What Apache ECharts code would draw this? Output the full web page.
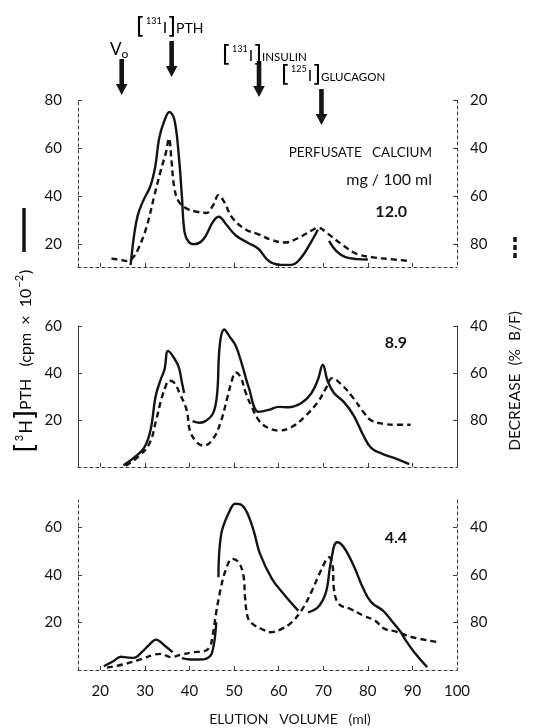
<!DOCTYPE html>
<html>
<head>
<meta charset="utf-8">
<script src="https://cdn.jsdelivr.net/npm/echarts@6/dist/echarts.min.js"></script>
<style>
  html, body { margin: 0; padding: 0; background: #fff; }
  #chart { width: 535px; height: 728px; }
</style>
</head>
<body>
<div id="chart"></div>
<script>
// elution profiles: [3H]PTH (solid, left axis) and % decrease B/F (dashed, right axis, inverted)
const calciumLevels = ['12.0', '8.9', '4.4']

// perfusate calcium 12.0 mg/100 ml
const pth12 = [[26.8, 11.3], [27.6, 24], [28.4, 32], [29.6, 38], [31.2, 44], [32.3, 52], [33.2, 64], [34.3, 71],
  [35.5, 75], [36.6, 72], [37.6, 57], [38.3, 40], [38.9, 25], [39.8, 21], [41, 20], [43.1, 22], [45.3, 29.4],
  [46.6, 31.4], [48.2, 28.3], [50.4, 23.6], [53.3, 20.4], [55.5, 18], [57.3, 13.8], [58.8, 12], [60.5, 11.4],
  [62.9, 11.4], [65.1, 14.5], [67.3, 21], [68.8, 26], [70.2, null], [71.3, 21.4], [73, 17], [75, 14.6],
  [77.5, 13.8], [80, 13.6]]
const bf12 = [[22.5, 86], [24.5, 86.5], [26, 87], [27.3, 85.6], [28.4, 82.4], [30.3, 73.3], [32.1, 60],
  [33.6, 49.1], [34.7, 42], [35.4, 36], [36, 46], [36.6, 56.5], [37.6, 62.3], [39.4, 65.2], [41.6, 66.5],
  [43.8, 67], [45.3, 63.8], [46.5, 59.6], [47.8, 62.5], [49.6, 69], [52.6, 73.9], [55.5, 75.9], [58.5, 78.3],
  [61.4, 79.3], [64.4, 77.4], [67.7, 74], [68.9, 73.2], [71, 75.6], [74.6, 80.7], [77.5, 84], [81.2, 85.5],
  [84.9, 86.2], [89.3, 87]]

// 8.9 mg/100 ml
const pth89 = [[25.2, 0.7], [27.7, 4.2], [29.9, 8.4], [31.3, 16], [32.4, 30], [33.5, 37], [34.4, 41.5],
  [35.2, 49.4], [36.5, 46.5], [37.6, 42.5], [38.3, 36], [38.8, 31.5], [39.8, null], [40.7, 19.5], [42.3, 18.8],
  [43.8, 19.8], [45.3, 22.8], [46.2, 31], [46.8, 52], [47.8, 58.5], [49, 55.5], [50.4, 51.5], [51.8, 43.5],
  [53.3, 33.8], [55.5, 23.5], [57.8, 24.3], [60, 25.6], [62.2, 25.4], [65.1, 27.2], [67.3, 31.3], [68.8, 37.1],
  [69.9, 43.5], [71, 36.5], [72.4, 31.5], [74.6, 27.7], [76.8, 22], [79, 13.4], [80.8, 8], [83.4, 5.5],
  [86.3, 3.6], [89.3, 1.2]]
const bf89 = [[25.7, 99.5], [28.4, 95.8], [31, 90.1], [32.5, 80.3], [33.6, 71.8], [34.7, 65.4], [35.4, 63.3],
  [36.5, 64], [37.9, 69], [39.4, 76], [40.1, 84.5], [41.6, 89.4], [43.2, 90.9], [45.3, 88], [47.1, 80.3],
  [48.5, 70.4], [49.6, 62.6], [50.4, 59.8], [51.5, 61.9], [52.6, 68.3], [54, 74.6], [55.7, 80.5], [57.8, 83.5],
  [60, 84.5], [62.9, 83], [65.8, 78.7], [68.8, 72.3], [70.6, 66.5], [72, 62.2], [74.2, 65.1], [76.8, 70.8],
  [79, 76.6], [80.8, 80.2], [83.4, 81.6], [86.3, 82], [89.6, 82]]

// 4.4 mg/100 ml
const pth44 = [[20.8, 1.6], [23, 3.8], [24.6, 5.6], [26, 5.3], [27.5, 5.1], [29.3, 7.5], [30.9, 10.5],
  [32.5, 12.8], [34.4, 10.3], [36.2, 7.5], [37.2, null], [38.3, 5], [40.2, 4.4], [42.3, 4.4], [43.8, 4.8],
  [45.1, 7.5], [46, 20.1], [46.2, null], [46.5, 39.1], [47.1, 57], [48.9, 66.5], [50.3, 70], [51.8, 69.3],
  [53.2, 65.1], [54.5, 58], [55.8, 49], [58.5, 38.4], [61.4, 31.4], [64.4, 25], [65.5, null], [66.6, 24.3],
  [68.8, 26.4], [70.6, 32.7], [71.7, 45.4], [73.1, 53.8], [74.6, 51.7], [76.8, 44], [79, 34.2], [80.8, 28.5],
  [83.4, 25], [85.6, 20.1], [87.3, 16.2], [88.5, 12.5], [90.7, 6.8], [93.3, 1.2]]
const bf44 = [[21.5, 99], [25.7, 97.4], [29.3, 95.3], [32.2, 93.5], [33.6, 93.2], [35.8, 94.6], [38, 93.6],
  [40.9, 92.5], [43.1, 92.2], [44.5, 90.4], [45.2, 85.5], [46, 75.7], [47, 65.8], [48.1, 58.1], [49.6, 53.2],
  [51, 54.6], [52.1, 60.2], [52.5, 70], [53.2, 78.5], [54.7, 81.3], [56.5, 83], [58.1, 84.1], [60.7, 82.7],
  [62.9, 79.9], [65.1, 75], [67.3, 67.3], [69.5, 58.1], [71.3, 52.5], [72.1, 56], [72.4, 65.8], [73.5, 72.2],
  [76.1, 74.3], [79, 77.1], [81.6, 79.2], [83.8, 82.7], [86.3, 83.8], [90, 86.2], [95.8, 88.3]]

const pthSeries = [pth12, pth89, pth44]
const bfSeries = [bf12, bf89, bf44]

// axes
const volumeTicks = [20, 30, 40, 50, 60, 70, 80, 90]
const volumeLabels = [20, 30, 40, 50, 60, 70, 80, 90, 100]
const pthRanges = [[10.5, 80], [0, 60], [0, 71.6]]
const pthTicks = [[20, 40, 60, 80], [20, 40, 60], [20, 40, 60]]
const bfTicks = [[20, 40, 60, 80], [40, 60, 80], [40, 60, 80]]

// elution markers (arrows above the top panel)
const markerVolumes = [24.8, 36, 55.6, 69.6]

const FONT = 'Lato, "DejaVu Sans", sans-serif'
const INK = '#141414'
const AXIS = '#3a3a3a'

const chart = echarts.init(document.getElementById('chart'))

const grids = [
  { left: 78, right: 78, top: 100, height: 167 },
  { left: 78, right: 78, top: 326, height: 141 },
  { left: 78, right: 78, top: 500, height: 170 }
]

let xAxes = []
let yAxes = []
let series = []
grids.forEach((g, i) => {
  xAxes.push({
    gridIndex: i, type: 'value', min: 15, max: 100,
    axisLine: { show: true, lineStyle: { color: AXIS, width: 1, type: [3, 3] } },
    axisTick: { show: true, inside: true, length: 4, customValues: volumeTicks, lineStyle: { color: AXIS } },
    axisLabel: { show: i === 2, customValues: volumeLabels, margin: 14, fontSize: 15, color: INK, fontFamily: FONT },
    splitLine: { show: false }
  })
  let [lo, hi] = pthRanges[i]
  yAxes.push({
    gridIndex: i, type: 'value', position: 'left', min: lo, max: hi,
    axisLine: { show: true, lineStyle: { color: AXIS, width: 1, type: i === 1 ? 'solid' : [3, 3] } },
    axisTick: { show: true, inside: true, length: 4, customValues: pthTicks[i], lineStyle: { color: AXIS } },
    axisLabel: { customValues: pthTicks[i], margin: 16, fontSize: 15, color: INK, fontFamily: FONT },
    splitLine: { show: false }
  })
  yAxes.push({
    gridIndex: i, type: 'value', position: 'right', inverse: true, min: 100 - hi, max: 100 - lo,
    axisLine: { show: true, lineStyle: { color: AXIS, width: 1, type: i === 1 ? 'solid' : [3, 3] } },
    axisTick: { show: true, inside: true, length: 4, customValues: bfTicks[i], lineStyle: { color: AXIS } },
    axisLabel: { customValues: bfTicks[i], margin: 13, fontSize: 15, color: INK, fontFamily: FONT },
    splitLine: { show: false }
  })
  series.push({
    name: 'pth' + calciumLevels[i], type: 'line', xAxisIndex: i, yAxisIndex: 2 * i,
    data: pthSeries[i], symbol: 'none', smooth: 0.4, connectNulls: false,
    lineStyle: { color: INK, width: 2.4 }, silent: true, z: 3
  })
  series.push({
    name: 'bf' + calciumLevels[i], type: 'line', xAxisIndex: i, yAxisIndex: 2 * i + 1,
    data: bfSeries[i], symbol: 'none', smooth: 0.4,
    lineStyle: { color: INK, width: 2.4, type: [6, 4] }, silent: true, z: 2
  })
})

chart.setOption({
  backgroundColor: '#fff',
  animation: false,
  grid: grids,
  xAxis: xAxes,
  yAxis: yAxes,
  series: series
})

// annotations
const rich = {
  br: { fontSize: 23, fontFamily: 'DejaVu Sans', color: INK, lineHeight: 26, verticalAlign: 'middle' },
  sup: { fontSize: 9, fontFamily: FONT, color: INK, lineHeight: 26, verticalAlign: 'top', padding: [2, 1, 0, 1] },
  i: { fontSize: 16, fontFamily: FONT, color: INK, lineHeight: 26, verticalAlign: 'middle' },
  t: { fontSize: 14, fontFamily: FONT, color: INK, lineHeight: 26, verticalAlign: 'middle' },
  s: { fontSize: 11.5, fontFamily: FONT, color: INK, lineHeight: 26, verticalAlign: 'middle', padding: [3, 0, 0, 0] },
  v: { fontSize: 17, fontFamily: FONT, color: INK, lineHeight: 26, verticalAlign: 'middle' },
  sub: { fontSize: 12, fontFamily: FONT, color: INK, lineHeight: 26, verticalAlign: 'bottom', padding: [0, 0, 3, 0] },
  bra: { fontSize: 26, fontFamily: 'DejaVu Sans', color: INK, lineHeight: 28, verticalAlign: 'middle' },
  h: { fontSize: 18, fontFamily: FONT, color: INK, lineHeight: 28, verticalAlign: 'middle' },
  ax: { fontSize: 16, fontFamily: FONT, color: INK, lineHeight: 28, verticalAlign: 'middle' },
  supa: { fontSize: 11, fontFamily: FONT, color: INK, lineHeight: 28, verticalAlign: 'top', padding: [2, 1, 0, 1] }
}

const markerText = [
  { text: '{v|V}{sub|o}', x: 110, y: 50 },
  { text: '{br|[}{sup|131}{i|I}{br|]}{t|PTH}', x: 136, y: 28 },
  { text: '{br|[}{sup|131}{i|I}{br|]}{s|INSULIN}', x: 222, y: 56 },
  { text: '{br|[}{sup|125}{i|I}{br|]}{s|GLUCAGON}', x: 281, y: 76 }
]
const arrowTips = [95, 77, 97, 125]

let graphics = []
markerVolumes.forEach((ml, k) => {
  let x = chart.convertToPixel({ xAxisIndex: 0 }, ml)
  let tip = arrowTips[k]
  let top = tip - 36
  graphics.push({
    type: 'polygon',
    shape: { points: [[x - 2.3, top], [x + 2.3, top], [x + 2.3, tip - 11], [x + 5.8, tip - 11], [x, tip], [x - 5.8, tip - 11], [x - 2.3, tip - 11]] },
    style: { fill: INK }
  })
  graphics.push({
    type: 'text', x: markerText[k].x, y: markerText[k].y,
    style: { text: markerText[k].text, rich: rich, verticalAlign: 'middle', align: 'left' }
  })
})

const plain = (text, x, y, size) => ({
  type: 'text', x: x, y: y,
  style: { text: text, fontSize: size, fontFamily: FONT, fill: INK, align: 'right', verticalAlign: 'middle' }
})

graphics.push(plain('PERFUSATE   CALCIUM', 432, 153, 13.5))
graphics.push(plain('mg / 100 ml', 432, 180, 16))
const levelY = [212, 343, 538]
calciumLevels.forEach((lv, i) => {
  let g = plain(lv, 407, levelY[i], 16)
  g.style.fontWeight = 'bold'
  graphics.push(g)
})
graphics.push({
  type: 'text', x: 290, y: 719,
  style: { text: 'ELUTION   VOLUME   (ml)', fontSize: 14, fontFamily: FONT, fill: INK, align: 'center', verticalAlign: 'middle' }
})

// axis titles + line-style keys
graphics.push({
  type: 'text', x: 26, y: 361, rotation: Math.PI / 2,
  style: { text: '{bra|[}{supa|3}{h|H}{bra|]}{ax|PTH   (cpm  ×  10}{supa|−2}{ax|)}', rich: rich, align: 'center', verticalAlign: 'middle' }
})
graphics.push({
  type: 'text', x: 515, y: 381, rotation: Math.PI / 2,
  style: { text: 'DECREASE  (%  B/F)', fontSize: 15.5, fontFamily: FONT, fill: INK, align: 'center', verticalAlign: 'middle' }
})
graphics.push({
  type: 'line', shape: { x1: 24, y1: 208, x2: 24, y2: 252 },
  style: { stroke: INK, lineWidth: 3.5 }
})
graphics.push({
  type: 'line', shape: { x1: 515, y1: 237, x2: 515, y2: 259 },
  style: { stroke: INK, lineWidth: 3.5, lineDash: [5, 3] }
})

chart.setOption({ graphic: graphics })
window.addEventListener('resize', () => chart.resize())
</script>
</body>
</html>
